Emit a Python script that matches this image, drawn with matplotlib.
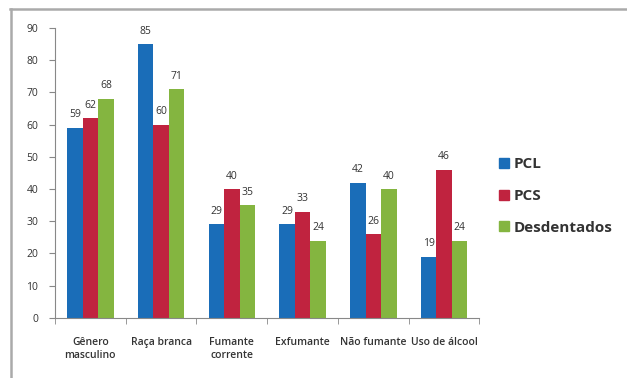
import numpy as np
import matplotlib.pyplot as plt
from matplotlib.lines import Line2D

plt.rcParams['font.family'] = ['Open Sans', 'DejaVu Sans']

categories = ['Gênero\nmasculino', 'Raça branca', 'Fumante\ncorrente',
              'Exfumante', 'Não fumante', 'Uso de álcool']
series = ['PCL', 'PCS', 'Desdentados']
pcl = [59, 85, 29, 29, 42, 19]
pcs = [62, 60, 40, 33, 26, 46]
desdentados = [68, 71, 35, 24, 40, 24]
colors = ['#1a6db8', '#c0233f', '#84b540']

fig = plt.figure(figsize=(6.27, 3.78), dpi=100)
ax = fig.add_axes([0.0877, 0.159, 0.677, 0.767])

x = np.arange(len(categories))
w = 0.22
for i, (vals, col, name) in enumerate(zip([pcl, pcs, desdentados], colors, series)):
    pos = x + (i - 1) * w
    ax.bar(pos, vals, width=w, color=col, label=name)
    for p, v in zip(pos, vals):
        ax.text(p, v + 2.3, str(v), ha='center', va='bottom',
                fontsize=7.5, color='#333333')

ax.set_xlim(-0.5, len(categories) - 0.5)
ax.set_ylim(0, 90)
ax.set_yticks(range(0, 91, 10))
ax.set_xticks(x)
ax.set_xticklabels(categories, fontsize=7.5, fontweight='semibold', color='#333333',
                   linespacing=1.15)
ax.tick_params(axis='x', length=0, pad=14)
ax.set_xticks(np.arange(-0.5, len(categories)), minor=True)
ax.tick_params(axis='x', which='minor', length=4, color='#888888')
ax.tick_params(axis='y', labelsize=7.5, colors='#333333', length=4, pad=8)
ax.tick_params(axis='y', color='#888888')
for s in ['top', 'right']:
    ax.spines[s].set_visible(False)
for s in ['left', 'bottom']:
    ax.spines[s].set_color('#888888')
    ax.spines[s].set_linewidth(0.8)

handles = [Line2D([], [], marker='s', linestyle='none', color=c, markersize=6.5)
           for c in colors]
leg = fig.legend(handles, series, loc='upper left',
                 bbox_to_anchor=(0.77, 0.62), frameon=False,
                 handletextpad=0.1, labelspacing=1.15, handlelength=1.0,
                 prop={'size': 11, 'weight': 'bold'})
for t in leg.get_texts():
    t.set_color('#333333')

# frame lines along the top and left edges
fig.add_artist(Line2D([0.016, 0.999], [0.976, 0.976], color='#aaaaaa',
                      lw=1.8, transform=fig.transFigure))
fig.add_artist(Line2D([0.0175, 0.0175], [0.0, 0.976], color='#aaaaaa',
                      lw=1.8, transform=fig.transFigure))

fig.savefig('out.png', dpi=100)
